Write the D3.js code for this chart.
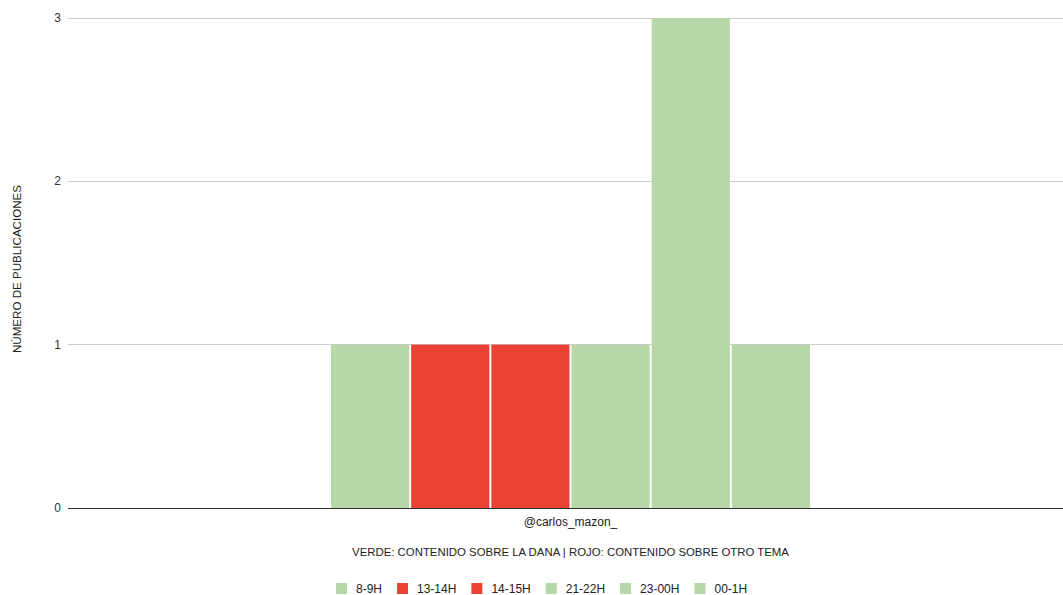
<!DOCTYPE html>
<html><head><meta charset="utf-8">
<script src="https://cdn.jsdelivr.net/npm/d3@7"></script>
<style>body{margin:0;background:#fff}svg{display:block;font-family:"Liberation Sans",Arial,sans-serif}</style>
</head><body><svg id="c" width="1063" height="595"></svg>
<script>
const categories = ["@carlos_mazon_"];
const seriesNames = ["8-9H","13-14H","14-15H","21-22H","23-00H","00-1H"];
const seriesValues = [1,1,1,1,3,1];
const seriesColors = ["#b6d7a8","#ea4335","#ea4335","#b6d7a8","#b6d7a8","#b6d7a8"];
const yTicks = [0,1,2,3];
const yTitle = "NÚMERO DE PUBLICACIONES";
const xTitle = "VERDE: CONTENIDO SOBRE LA DANA | ROJO: CONTENIDO SOBRE OTRO TEMA";

const svg = d3.select("#c");
const L = 68, R = 1073, T = 18, B = 508, gridRight = 1063;
const y = d3.scaleLinear().domain([0,3]).range([B,T]);
const x0 = d3.scaleBand().domain(categories).range([L,R]).paddingInner(0).paddingOuter(0.549);
const x1 = d3.scaleBand().domain(seriesNames).range([0,x0.bandwidth()]).paddingInner(0.025).paddingOuter(0);

// grid
svg.append("g").selectAll("line").data(yTicks.filter(d=>d>0)).join("line")
  .attr("x1",L).attr("x2",gridRight).attr("y1",d=>y(d)).attr("y2",d=>y(d))
  .attr("stroke","#cccccc").attr("stroke-width",1).attr("shape-rendering","crispEdges");
svg.append("g").selectAll("text").data(yTicks).join("text")
  .attr("x",61).attr("y",d=>y(d)+4).attr("text-anchor","end")
  .attr("font-size",12).attr("fill","#333").text(d=>d);

// bars
const g = svg.append("g").attr("transform",`translate(${x0(categories[0])},0)`);
g.selectAll("rect").data(seriesNames.map((s,i)=>({s,v:seriesValues[i],c:seriesColors[i]}))).join("rect")
  .attr("x",d=>x1(d.s)).attr("width",x1.bandwidth())
  .attr("y",d=>y(d.v)).attr("height",d=>y(0)-y(d.v)).attr("fill",d=>d.c);

// baseline
svg.append("line").attr("x1",L).attr("x2",gridRight).attr("y1",y(0)).attr("y2",y(0))
  .attr("stroke","#333").attr("stroke-width",1).attr("shape-rendering","crispEdges");

// category label
svg.append("text").attr("x",x0(categories[0])+x0.bandwidth()/2).attr("y",526)
  .attr("text-anchor","middle").attr("font-size",12).attr("fill","#222").text(categories[0]);
// x title
svg.append("text").attr("x",x0(categories[0])+x0.bandwidth()/2).attr("y",556)
  .attr("text-anchor","middle").attr("font-size",11.4).attr("fill","#222").text(xTitle);
// y title
svg.append("text").attr("transform",`translate(21,269) rotate(-90)`)
  .attr("text-anchor","middle").attr("font-size",11.6).attr("fill","#222").text(yTitle);

// legend
const leg = svg.append("g");
let lx = 336;
seriesNames.forEach((s,i)=>{
  leg.append("rect").attr("x",lx).attr("y",583).attr("width",11).attr("height",11).attr("fill",seriesColors[i]);
  const t = leg.append("text").attr("x",lx+20).attr("y",593).attr("font-size",12).attr("fill","#222").text(s);
  lx += 20 + t.node().getComputedTextLength() + 15;
});
</script></body></html>
